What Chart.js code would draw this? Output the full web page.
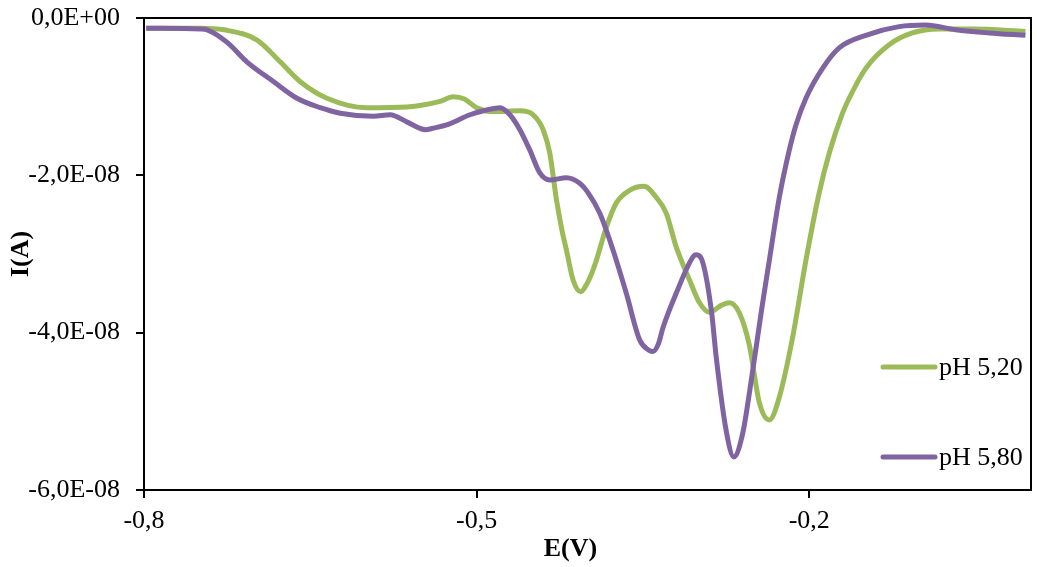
<!DOCTYPE html>
<html>
<head>
<meta charset="utf-8">
<script src="https://cdn.jsdelivr.net/npm/chart.js@4.4.1/dist/chart.umd.min.js"></script>
<style>
html, body { margin: 0; padding: 0; background: #fff; }
</style>
</head>
<body>
<canvas id="myChart" width="1037" height="567"></canvas>
<script>
// potential (V) and current (x1E-08 A)
const potential520 = [-0.798, -0.749, -0.728, -0.698, -0.677, -0.659, -0.635, -0.599, -0.563, -0.533,
    -0.521, -0.511, -0.500, -0.485, -0.461, -0.449, -0.440, -0.434, -0.428, -0.423,
    -0.419, -0.413, -0.406, -0.401, -0.396, -0.392, -0.383, -0.374, -0.362, -0.349,
    -0.338, -0.329, -0.320, -0.308, -0.299, -0.290, -0.279, -0.272, -0.263, -0.254,
    -0.245, -0.236, -0.227, -0.215, -0.203, -0.191, -0.182, -0.170, -0.164, -0.149,
    -0.128, -0.107, -0.083, -0.053, -0.005];
const current520 = [-0.13, -0.13, -0.15, -0.28, -0.56, -0.81, -1.02, -1.14, -1.13, -1.06,
    -1.00, -1.03, -1.14, -1.19, -1.18, -1.23, -1.42, -1.72, -2.31, -2.70,
    -2.95, -3.33, -3.48, -3.39, -3.24, -3.08, -2.66, -2.35, -2.19, -2.14,
    -2.28, -2.48, -2.91, -3.33, -3.62, -3.74, -3.65, -3.62, -3.75, -4.16,
    -4.89, -5.11, -4.82, -4.06, -3.08, -2.22, -1.72, -1.21, -1.02, -0.64,
    -0.34, -0.19, -0.14, -0.14, -0.17];

const potential580 = [-0.798, -0.749, -0.743, -0.725, -0.707, -0.683, -0.662, -0.641, -0.623, -0.593,
    -0.578, -0.563, -0.546, -0.539, -0.527, -0.506, -0.491, -0.479, -0.470, -0.461,
    -0.452, -0.443, -0.434, -0.419, -0.407, -0.400, -0.389, -0.377, -0.365, -0.353,
    -0.345, -0.341, -0.336, -0.332, -0.320, -0.305, -0.302, -0.296, -0.288, -0.284, -0.275,
    -0.268, -0.260, -0.254, -0.243, -0.236, -0.227, -0.218, -0.212, -0.203, -0.188,
    -0.173, -0.149, -0.119, -0.095, -0.068, -0.038, -0.005];
const current580 = [-0.13, -0.14, -0.15, -0.31, -0.56, -0.81, -1.02, -1.14, -1.21, -1.25,
    -1.23, -1.32, -1.42, -1.40, -1.36, -1.23, -1.17, -1.14, -1.23, -1.42,
    -1.68, -1.97, -2.06, -2.03, -2.10, -2.21, -2.48, -2.95, -3.50, -4.09,
    -4.22, -4.24, -4.14, -3.94, -3.50, -3.04, -3.01, -3.11, -3.75, -4.30, -5.24,
    -5.58, -5.28, -4.77, -3.71, -3.08, -2.28, -1.68, -1.36, -1.02, -0.64,
    -0.38, -0.22, -0.11, -0.09, -0.15, -0.19, -0.22];

const seriesNames = ['pH 5,20', 'pH 5,80'];
const xTicks = [-0.8, -0.5, -0.2];
const yTicks = [0, -2, -4, -6];

const green = '#9BBB59';
const purple = '#8064A2';
const tickFont = { family: 'Liberation Serif', size: 26 };
const titleFont = { family: 'Liberation Serif', size: 26, weight: 'bold' };

function toPoints(xs, ys) {
    return xs.map((x, i) => ({ x: x, y: ys[i] }));
}

function yLabel(v) {
    if (v === 0) return '0,0E+00';
    return v.toFixed(1).replace('.', ',') + 'E-08';
}

// box around the plot area
const framePlugin = {
    id: 'frame',
    afterDatasetsDraw(chart) {
        const a = chart.chartArea;
        const c = chart.ctx;
        c.save();
        c.strokeStyle = '#000';
        c.lineWidth = 2;
        c.strokeRect(a.left, a.top, a.right - a.left, a.bottom - a.top);
        c.restore();
    }
};

// legend sits inside the plot, bottom right; x title sits a bit left of centre like the original
const legendPlugin = {
    id: 'innerLegend',
    afterDraw(chart) {
        const a = chart.chartArea;
        const c = chart.ctx;
        const rows = [a.bottom - 123, a.bottom - 33];
        const colors = [green, purple];
        c.save();
        c.font = '26px "Liberation Serif"';
        c.fillStyle = '#000';
        c.textBaseline = 'middle';
        c.lineCap = 'round';
        c.lineWidth = 5;
        rows.forEach((y, i) => {
            c.strokeStyle = colors[i];
            c.beginPath();
            c.moveTo(a.right - 148, y);
            c.lineTo(a.right - 96, y);
            c.stroke();
            c.fillText(seriesNames[i], a.right - 92, y + 1);
        });
        c.font = 'bold 26px "Liberation Serif"';
        c.textAlign = 'center';
        c.fillText('E(V)', (a.left + a.right) / 2 - 17, a.bottom + 59);
        c.restore();
    }
};

const ctx = document.getElementById('myChart');

new Chart(ctx, {
    type: 'line',
    data: {
        datasets: [{
            label: seriesNames[0],
            data: toPoints(potential520, current520),
            borderColor: green,
            borderWidth: 5,
            pointRadius: 0,
            cubicInterpolationMode: 'monotone',
            order: 2
        }, {
            label: seriesNames[1],
            data: toPoints(potential580, current580),
            borderColor: purple,
            borderWidth: 5,
            pointRadius: 0,
            cubicInterpolationMode: 'monotone',
            order: 1
        }]
    },
    options: {
        responsive: false,
        animation: false,
        layout: { padding: { top: 18, right: 6, left: 0, bottom: 0 } },
        plugins: { legend: { display: false }, tooltip: { enabled: false } },
        scales: {
            x: {
                type: 'linear',
                min: -0.8,
                max: 0,
                afterBuildTicks: s => { s.ticks = xTicks.map(v => ({ value: v })); },
                afterFit: s => { s.height = 77; s.paddingLeft = 0; s.paddingRight = 0; },
                ticks: { font: tickFont, color: '#000', padding: 8, maxRotation: 0,
                    callback: v => v.toFixed(1).replace('.', ',') },
                grid: { drawOnChartArea: false, tickLength: 8, color: '#000', lineWidth: 2 },
                border: { color: '#000', width: 2 },
                title: { display: false }
            },
            y: {
                min: -6,
                max: 0,
                afterBuildTicks: s => { s.ticks = yTicks.map(v => ({ value: v })); },
                afterFit: s => { s.width = 144; s.paddingTop = 0; s.paddingBottom = 0; },
                ticks: { font: tickFont, color: '#000', padding: 16, callback: yLabel },
                grid: { drawOnChartArea: false, tickLength: 8, color: '#000', lineWidth: 2 },
                border: { color: '#000', width: 2 },
                title: { display: true, text: 'I(A)', font: titleFont, color: '#000', padding: 6 }
            }
        }
    },
    plugins: [framePlugin, legendPlugin]
});
</script>
</body>
</html>
